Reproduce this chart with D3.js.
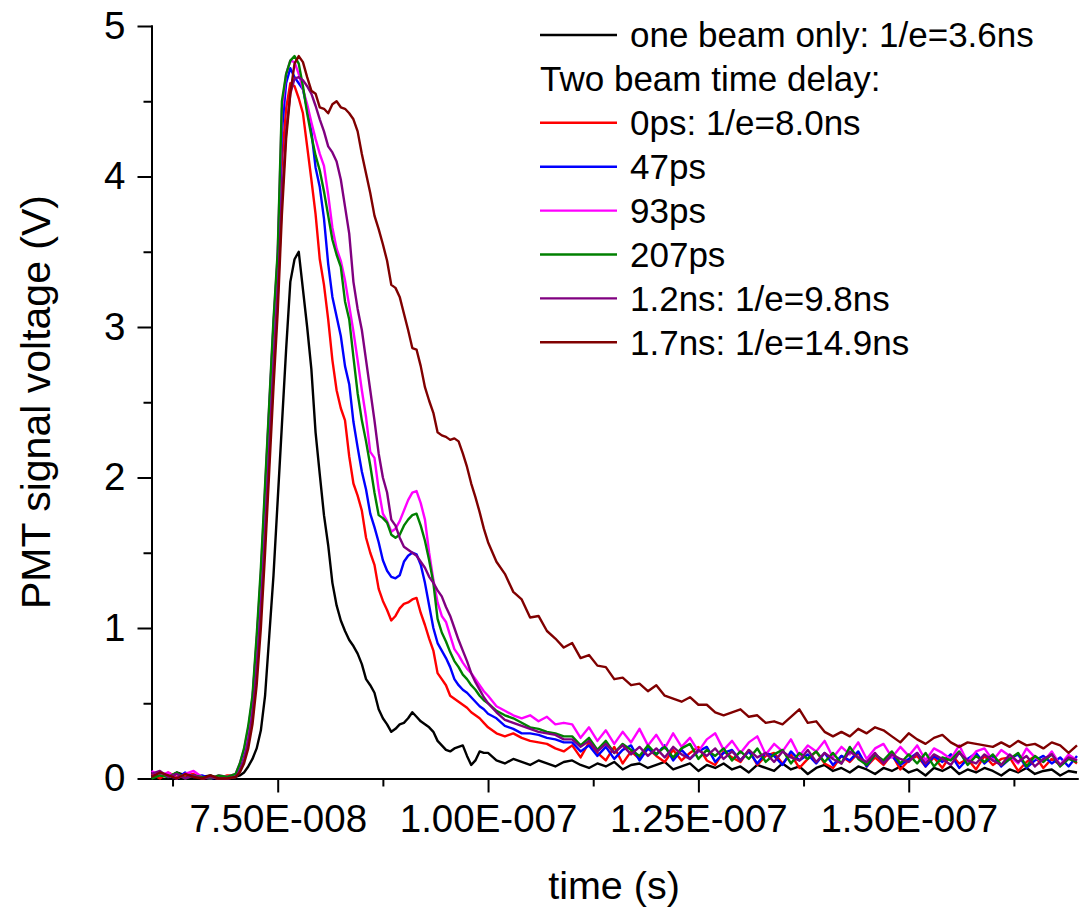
<!DOCTYPE html>
<html>
<head>
<meta charset="utf-8">
<script src="https://cdn.jsdelivr.net/npm/d3@7"></script>
<style>
  body { margin: 0; background: #fff; }
  text { font-family: "Liberation Sans", Arial, sans-serif; fill: #000; }
</style>
</head>
<body>
<svg width="1089" height="907"></svg>
<script>
// sample times in ns (denser around the peak)
const timeNs = [
  60, 61, 62, 63, 64, 65, 66, 67, 68, 69,
  70, 70.5, 71, 71.5, 72, 72.5, 73, 73.5, 74, 74.5,
  75, 75.5, 76, 76.5, 77, 77.5, 78, 78.5, 79, 79.5,
  80, 80.5, 81, 81.5, 82, 82.5, 83, 83.5, 84, 84.5,
  85, 85.5, 86, 86.5, 87, 87.5, 88, 88.5, 89, 89.5,
  90, 90.5, 91, 91.5, 92, 92.5, 93, 93.5, 94, 94.5,
  95, 95.5, 96, 96.5, 97, 97.5, 98, 98.5, 99, 99.5,
  100, 101, 102, 103, 104, 105, 106, 107, 108, 109,
  110, 111, 112, 113, 114, 115, 116, 117, 118, 119,
  120, 121, 122, 123, 124, 125, 126, 127, 128, 129,
  130, 131, 132, 133, 134, 135, 136, 137, 138, 139,
  140, 141, 142, 143, 144, 145, 146, 147, 148, 149,
  150, 151, 152, 153, 154, 155, 156, 157, 158, 159,
  160, 161, 162, 163, 164, 165, 166, 167, 168, 169,
  170
];

// PMT voltage (V) for each trace, same order as timeNs
const oneBeam = [
  0.02, 0.03, 0.01, 0.04, 0.02, 0.0, 0.01, 0.02, 0.0, 0.01,
  0.01, 0.02, 0.04, 0.08, 0.13, 0.2, 0.32, 0.55, 0.95, 1.35,
  1.85, 2.35, 2.85, 3.3, 3.45, 3.5, 3.25, 3.0, 2.72, 2.3,
  2.02, 1.75, 1.55, 1.3, 1.15, 1.05, 0.98, 0.92, 0.88, 0.83,
  0.76, 0.66, 0.62, 0.57, 0.46, 0.4, 0.36, 0.31, 0.33, 0.36,
  0.37, 0.4, 0.44, 0.41, 0.38, 0.36, 0.34, 0.31, 0.25, 0.22,
  0.19, 0.18, 0.2, 0.21, 0.22, 0.15, 0.09, 0.12, 0.18, 0.17,
  0.17, 0.12, 0.1, 0.13, 0.11, 0.09, 0.12, 0.1, 0.08, 0.11,
  0.12, 0.09, 0.07, 0.1, 0.08, 0.11, 0.06, 0.09, 0.1, 0.07,
  0.09, 0.11, 0.06, 0.08, 0.1, 0.05, 0.09, 0.07, 0.1, 0.06,
  0.08, 0.04, 0.09, 0.07, 0.05, 0.1, 0.06, 0.08, 0.03, 0.07,
  0.09, 0.05, 0.07, 0.04, 0.08, 0.06, 0.03, 0.07, 0.05, 0.08,
  0.04, 0.06, 0.02, 0.07, 0.05, 0.08, 0.03, 0.06, 0.04, 0.07,
  0.05, 0.02, 0.06, 0.04, 0.07, 0.03, 0.05, 0.06, 0.02, 0.05,
  0.04
];
const delay0ps = [
  0.03, 0.0, 0.04, 0.01, 0.02, 0.03, 0.0, 0.01, 0.0, 0.02,
  0.02, 0.08, 0.17, 0.3, 0.5, 0.85, 1.25, 1.8, 2.35, 2.9,
  3.35, 4.1, 4.45, 4.62, 4.6, 4.52, 4.42, 4.2, 3.98, 3.75,
  3.45, 3.28, 3.05, 2.78, 2.58, 2.46, 2.38, 2.14, 1.96, 1.88,
  1.78, 1.6, 1.5, 1.42, 1.26, 1.18, 1.12, 1.05, 1.08, 1.13,
  1.16, 1.17, 1.19, 1.2, 1.1, 1.02, 0.93, 0.85, 0.7, 0.66,
  0.62, 0.55, 0.53, 0.51, 0.49, 0.47, 0.44, 0.42, 0.4, 0.37,
  0.34, 0.3, 0.28, 0.3, 0.27, 0.25, 0.24, 0.23, 0.2, 0.18,
  0.22, 0.14, 0.24, 0.17, 0.12, 0.21, 0.1, 0.18, 0.13, 0.2,
  0.15, 0.11, 0.19, 0.12, 0.17, 0.21, 0.12, 0.09, 0.18, 0.14,
  0.11, 0.19, 0.09, 0.15, 0.17, 0.1, 0.16, 0.07, 0.13, 0.18,
  0.1, 0.07, 0.15, 0.11, 0.17, 0.08, 0.14, 0.09, 0.16, 0.06,
  0.12, 0.15, 0.08, 0.14, 0.07, 0.16, 0.1, 0.13, 0.06, 0.15,
  0.09, 0.13, 0.14, 0.05, 0.11, 0.15, 0.07, 0.13, 0.09, 0.14,
  0.1
];
const delay47ps = [
  0.01, 0.03, 0.02, 0.0, 0.04, 0.01, 0.02, 0.0, 0.01, 0.0,
  0.02, 0.09, 0.18, 0.32, 0.52, 0.9, 1.32, 1.88, 2.45, 3.0,
  3.45, 4.3, 4.62, 4.72, 4.66, 4.62, 4.58, 4.45, 4.3, 4.06,
  3.93, 3.72, 3.42, 3.2, 3.07, 2.94, 2.74, 2.62, 2.37, 2.2,
  2.04, 1.92, 1.76, 1.67, 1.57, 1.45, 1.38, 1.34, 1.33, 1.35,
  1.44, 1.48, 1.5, 1.49, 1.42, 1.3, 1.15, 1.0, 0.9, 0.85,
  0.8, 0.74, 0.66, 0.62, 0.59, 0.57, 0.54, 0.51, 0.48, 0.46,
  0.43, 0.4, 0.35, 0.33, 0.3, 0.3, 0.29, 0.27, 0.26, 0.24,
  0.24, 0.18, 0.22, 0.15, 0.21, 0.13, 0.19, 0.22, 0.12, 0.2,
  0.16, 0.22, 0.12, 0.19, 0.13, 0.18, 0.21, 0.11, 0.17, 0.19,
  0.12, 0.18, 0.1, 0.17, 0.15, 0.09, 0.18, 0.12, 0.16, 0.1,
  0.17, 0.09, 0.15, 0.12, 0.18, 0.08, 0.16, 0.11, 0.15, 0.09,
  0.13, 0.17, 0.08, 0.15, 0.11, 0.16, 0.07, 0.13, 0.17, 0.1,
  0.15, 0.08, 0.13, 0.16, 0.07, 0.12, 0.15, 0.1, 0.14, 0.08,
  0.15
];
const delay93ps = [
  0.05, 0.02, 0.04, 0.0, 0.03, 0.05, 0.01, 0.0, 0.02, 0.01,
  0.03, 0.1, 0.19, 0.33, 0.53, 0.92, 1.36, 1.92, 2.48, 3.02,
  3.48, 4.45, 4.68, 4.77, 4.76, 4.68, 4.58, 4.48, 4.36, 4.25,
  4.15, 4.07, 3.88, 3.66, 3.52, 3.44, 3.31, 3.14, 2.97, 2.78,
  2.58, 2.4, 2.17, 2.13, 1.92, 1.76, 1.71, 1.64, 1.66, 1.71,
  1.78, 1.85, 1.9, 1.91, 1.83, 1.72, 1.5, 1.32, 1.17, 1.08,
  1.04, 0.95, 0.86, 0.82, 0.77, 0.73, 0.7, 0.66, 0.62, 0.58,
  0.55, 0.48, 0.45, 0.42, 0.4, 0.42, 0.38, 0.41, 0.36, 0.37,
  0.36, 0.27, 0.34, 0.25, 0.32, 0.23, 0.31, 0.24, 0.33, 0.22,
  0.29, 0.2, 0.3, 0.21, 0.27, 0.18, 0.26, 0.3, 0.19, 0.25,
  0.17, 0.24, 0.28, 0.16, 0.23, 0.18, 0.26, 0.15, 0.22, 0.18,
  0.25, 0.14, 0.21, 0.16, 0.24, 0.13, 0.2, 0.23, 0.14, 0.21,
  0.15, 0.22, 0.12, 0.2, 0.17, 0.13, 0.22, 0.11, 0.18, 0.2,
  0.12, 0.19, 0.15, 0.1, 0.2, 0.14, 0.11, 0.18, 0.09, 0.16,
  0.12
];
const delay207ps = [
  0.0, 0.02, 0.01, 0.04, 0.0, 0.02, 0.01, 0.0, 0.02, 0.01,
  0.03, 0.1, 0.2, 0.35, 0.55, 0.95, 1.4, 1.95, 2.5, 3.05,
  3.5, 4.5, 4.68, 4.77, 4.8, 4.75, 4.6, 4.42, 4.27, 4.14,
  4.04, 3.9, 3.74, 3.58, 3.48, 3.4, 3.17, 3.05, 2.8, 2.56,
  2.38, 2.24, 2.08, 1.9, 1.75, 1.73, 1.7, 1.62, 1.6, 1.62,
  1.68, 1.72, 1.75, 1.76, 1.68, 1.58, 1.45, 1.3, 1.06, 0.97,
  0.91, 0.84, 0.78, 0.74, 0.69, 0.66, 0.62, 0.59, 0.55, 0.52,
  0.5, 0.45, 0.42, 0.4, 0.37, 0.34, 0.33, 0.31, 0.3, 0.28,
  0.28, 0.22, 0.27, 0.19, 0.25, 0.17, 0.23, 0.19, 0.15, 0.22,
  0.16, 0.21, 0.14, 0.2, 0.23, 0.13, 0.19, 0.15, 0.2, 0.12,
  0.18, 0.13, 0.2, 0.11, 0.16, 0.19, 0.1, 0.17, 0.13, 0.18,
  0.11, 0.17, 0.1, 0.21, 0.13, 0.09, 0.16, 0.12, 0.18, 0.1,
  0.16, 0.1, 0.17, 0.08, 0.14, 0.12, 0.18, 0.09, 0.15, 0.11,
  0.16, 0.09, 0.13, 0.17, 0.08, 0.15, 0.11, 0.16, 0.08, 0.13,
  0.11
];
const delay1p2ns = [
  0.03, 0.05, 0.01, 0.03, 0.0, 0.02, 0.0, 0.01, 0.0, 0.0,
  0.01, 0.05, 0.12, 0.24, 0.42, 0.72, 1.1, 1.6, 2.15, 2.7,
  3.2, 3.85, 4.3, 4.55, 4.65, 4.66, 4.64, 4.6, 4.55, 4.47,
  4.38, 4.3, 4.2, 4.16, 4.1, 3.98, 3.8, 3.62, 3.3, 3.12,
  2.98, 2.78, 2.58, 2.38, 2.16, 2.0, 1.9, 1.72, 1.68, 1.6,
  1.54, 1.52, 1.5, 1.48, 1.44, 1.4, 1.34, 1.3, 1.25, 1.21,
  1.14, 1.08, 1.0, 0.92, 0.85, 0.78, 0.7, 0.64, 0.59, 0.54,
  0.5, 0.44, 0.39, 0.37, 0.35, 0.33, 0.31, 0.3, 0.29, 0.26,
  0.26, 0.21, 0.25, 0.18, 0.23, 0.17, 0.22, 0.16, 0.21, 0.15,
  0.2, 0.14, 0.21, 0.16, 0.13, 0.19, 0.15, 0.2, 0.13, 0.18,
  0.12, 0.19, 0.14, 0.17, 0.11, 0.18, 0.14, 0.12, 0.19, 0.11,
  0.17, 0.13, 0.1, 0.18, 0.14, 0.11, 0.17, 0.1, 0.16, 0.13,
  0.11, 0.17, 0.1, 0.16, 0.13, 0.09, 0.17, 0.12, 0.1, 0.16,
  0.12, 0.09, 0.16, 0.11, 0.15, 0.08, 0.13, 0.16, 0.09, 0.14,
  0.12
];
const delay1p7ns = [
  0.01, 0.04, 0.02, 0.0, 0.03, 0.01, 0.0, 0.02, 0.0, 0.0,
  0.01, 0.04, 0.1, 0.2, 0.36, 0.62, 1.0, 1.5, 2.05, 2.6,
  3.1, 3.75, 4.25, 4.55, 4.75, 4.8, 4.76, 4.66, 4.57, 4.55,
  4.46, 4.45, 4.42, 4.48, 4.5, 4.46, 4.45, 4.42, 4.38, 4.3,
  4.15, 4.02, 3.89, 3.74, 3.65, 3.55, 3.44, 3.28, 3.26, 3.2,
  3.09, 2.98, 2.86, 2.85, 2.74, 2.6, 2.51, 2.43, 2.3, 2.28,
  2.27, 2.25, 2.26, 2.24, 2.16, 2.07, 1.96, 1.87, 1.77, 1.66,
  1.57, 1.44, 1.36, 1.24, 1.19, 1.07, 1.08, 0.98, 0.93, 0.87,
  0.9, 0.8, 0.82, 0.75, 0.74, 0.66, 0.67, 0.62, 0.63, 0.58,
  0.62, 0.55, 0.53, 0.51, 0.54, 0.49, 0.49, 0.44, 0.42, 0.44,
  0.46, 0.41, 0.42, 0.37, 0.38, 0.36, 0.41, 0.46, 0.37, 0.38,
  0.31, 0.28, 0.31, 0.28, 0.33, 0.3, 0.34, 0.32, 0.28, 0.24,
  0.3, 0.26, 0.23, 0.27, 0.29, 0.24, 0.21, 0.24, 0.23, 0.22,
  0.21, 0.24, 0.21, 0.25, 0.22, 0.23, 0.2, 0.24, 0.22, 0.17,
  0.22
];

const seriesLabels = ["one beam only: 1/e=3.6ns", "0ps: 1/e=8.0ns", "47ps", "93ps", "207ps",
  "1.2ns: 1/e=9.8ns", "1.7ns: 1/e=14.9ns"];
const seriesColors = ["#000000", "#ff0000", "#0000ff", "#ff00ff", "#008000", "#800080", "#800000"];
const seriesValues = [oneBeam, delay0ps, delay47ps, delay93ps, delay207ps, delay1p2ns, delay1p7ns];
const legendHeading = "Two beam time delay:";

const xMajorTicks = [7.5e-8, 1.0e-7, 1.25e-7, 1.5e-7];
const xMinorTicks = [6.25e-8, 8.75e-8, 1.125e-7, 1.375e-7, 1.625e-7];
const yMajorTicks = [0, 1, 2, 3, 4, 5];
const yMinorTicks = [0.5, 1.5, 2.5, 3.5, 4.5];

let svg = d3.select("svg");

let x = d3.scaleLinear().domain([6.0e-8, 1.7e-7]).range([151.5, 1077]);
let y = d3.scaleLinear().domain([0, 5]).range([778.5, 26]);

// "7.50E-008" style labels like Origin
function sciFormat(v) {
  let parts = v.toExponential(2).toUpperCase().split("E");
  let e = +parts[1];
  let sign = e < 0 ? "-" : "+";
  return parts[0] + "E" + sign + String(Math.abs(e)).padStart(3, "0");
}

// axes
let gx = svg.append("g").attr("transform", "translate(0,778.5)");
gx.call(d3.axisBottom(x).tickValues(xMajorTicks).tickSize(14).tickSizeOuter(0).tickPadding(12).tickFormat(sciFormat));
let gxMinor = svg.append("g").attr("transform", "translate(0,778.5)");
gxMinor.call(d3.axisBottom(x).tickValues(xMinorTicks).tickSize(8).tickSizeOuter(0).tickFormat(""));

let gy = svg.append("g").attr("transform", "translate(151.5,0)");
gy.call(d3.axisLeft(y).tickValues(yMajorTicks).tickSize(14).tickSizeOuter(0).tickPadding(12).tickFormat(d3.format("d")));
let gyMinor = svg.append("g").attr("transform", "translate(151.5,0)");
gyMinor.call(d3.axisLeft(y).tickValues(yMinorTicks).tickSize(8).tickSizeOuter(0).tickFormat(""));

svg.selectAll(".domain").attr("stroke", "#000").attr("stroke-width", 2).attr("stroke-linecap", "square");
svg.selectAll(".tick line").attr("stroke", "#000").attr("stroke-width", 2);
svg.selectAll(".tick text")
  .style("font-family", "'Liberation Sans', Arial, sans-serif")
  .attr("font-size", 38.5)
  .attr("fill", "#000");

// axis titles
svg.append("text")
  .attr("x", 614)
  .attr("y", 899)
  .attr("text-anchor", "middle")
  .attr("font-size", 39.5)
  .text("time (s)");

svg.append("text")
  .attr("transform", "translate(50,402) rotate(-90)")
  .attr("text-anchor", "middle")
  .attr("font-size", 41)
  .text("PMT signal voltage (V)");

// traces
let line = d3.line()
  .x(function(d) { return x(d[0] * 1e-9); })
  .y(function(d) { return y(d[1]); });

seriesValues.forEach(function(vals, i) {
  let pts = timeNs.map(function(t, j) { return [t, vals[j]]; });
  svg.append("path")
    .datum(pts)
    .attr("fill", "none")
    .attr("stroke", seriesColors[i])
    .attr("stroke-width", 2.4)
    .attr("stroke-linejoin", "round")
    .attr("d", line);
});

// legend
const legendRowY = function(r) { return 35 + r * 43.9; };
let legend = svg.append("g");
seriesLabels.forEach(function(label, i) {
  let row = i === 0 ? 0 : i + 1;
  legend.append("line")
    .attr("x1", 540).attr("x2", 617)
    .attr("y1", legendRowY(row)).attr("y2", legendRowY(row))
    .attr("stroke", seriesColors[i])
    .attr("stroke-width", 2.4);
  legend.append("text")
    .attr("x", 630)
    .attr("y", legendRowY(row) + 12.3)
    .attr("font-size", 35)
    .text(label);
});
legend.append("text")
  .attr("x", 540)
  .attr("y", legendRowY(1) + 12.3)
  .attr("font-size", 35)
  .text(legendHeading);
</script>
</body>
</html>
